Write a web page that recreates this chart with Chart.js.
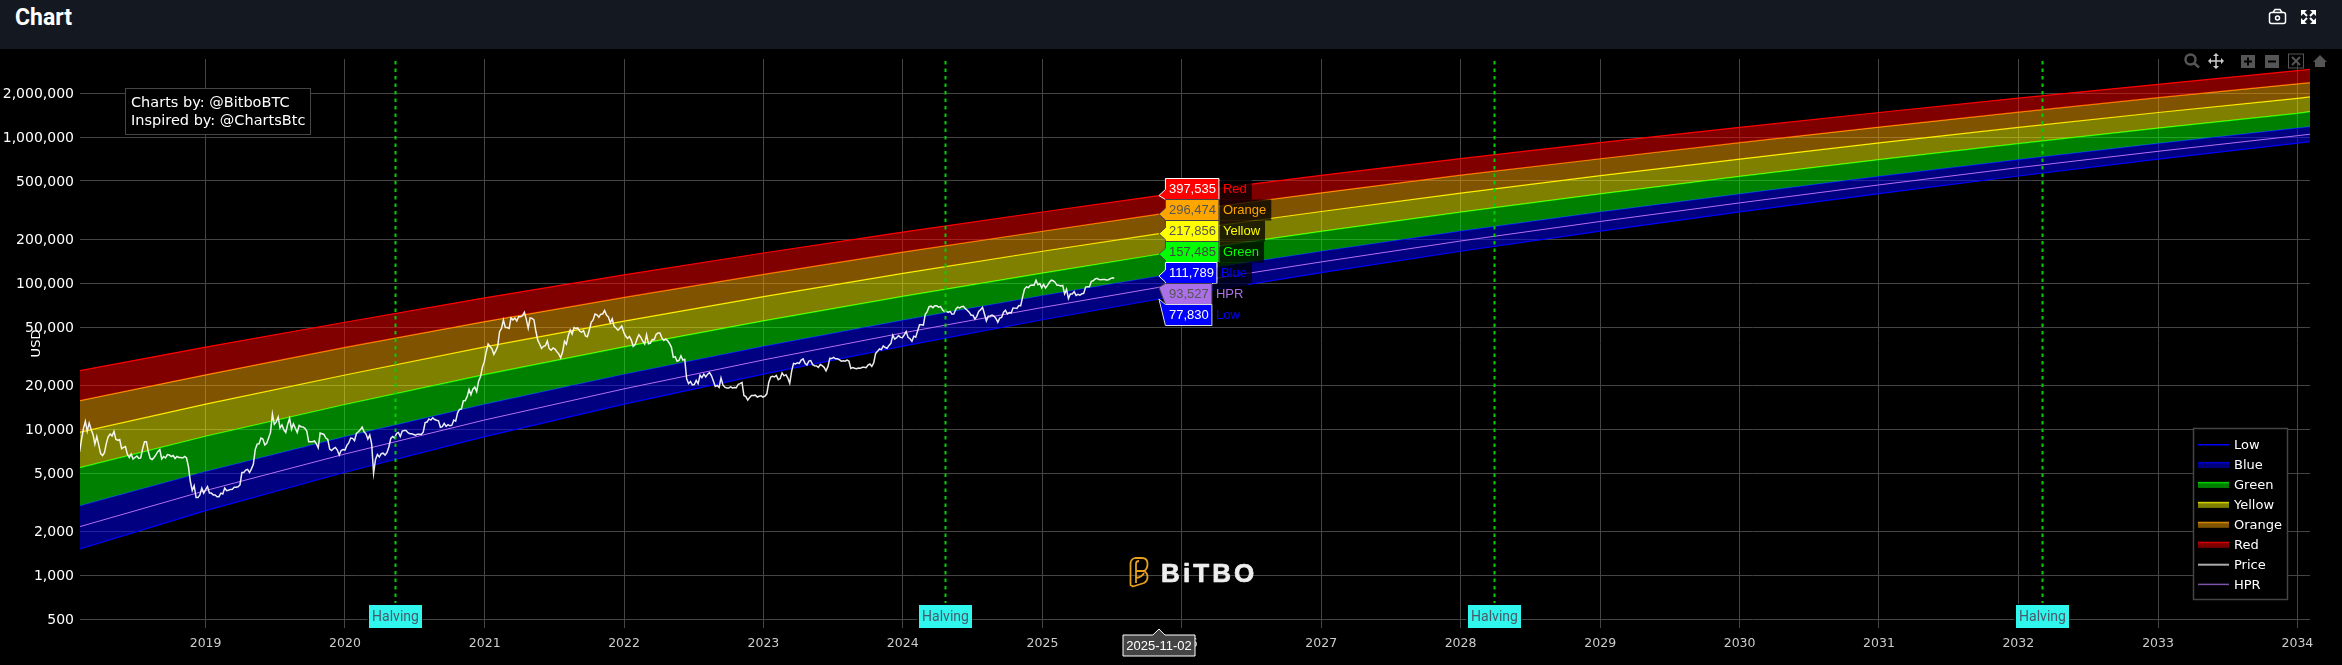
<!DOCTYPE html>
<html>
<head>
<meta charset="utf-8">
<title>Chart</title>
<script src="https://cdn.jsdelivr.net/npm/chart.js@4"></script>
<style>
  html, body { margin: 0; padding: 0; background: #000; overflow: hidden; }
  #header { position: absolute; left: 0; top: 0; width: 2342px; height: 49px; background: #141821; }
  #title { position: absolute; left: 15px; top: 4px; color: #fff; font: 700 23px Roboto, sans-serif; }
  #icons { position: absolute; left: 0; top: 0; }
  #myChart { position: absolute; left: 0; top: 49px; }
</style>
</head>
<body>
<div id="header">
  <div id="title">Chart</div>
  <svg id="icons" width="2342" height="49">
    <g fill="none" stroke="#fff" stroke-width="1.5">
      <rect x="2269.5" y="12.5" width="16" height="11" rx="2"/>
      <path d="M2273 12.5l2-3h5l2 3"/>
      <circle cx="2277.5" cy="18" r="2"/>
    </g>
    <g fill="none" stroke="#fff" stroke-width="2">
      <path d="M2303 12l4 4M2314 12l-4 4M2303 22l4-4M2314 22l-4-4"/>
    </g>
    <g fill="#fff">
      <path d="M2301 10h6l-6 6zM2316 10h-6l6 6zM2301 24h6l-6-6zM2316 24h-6l6-6z"/>
    </g>
  </svg>
</div>
<canvas id="myChart" width="2342" height="616"></canvas>
<script>
const bandDates = ['2018-02-05', '2019-01-01', '2020-01-01', '2021-01-01', '2022-01-01', '2023-01-01', '2024-01-01', '2025-01-01', '2025-11-02', '2026-01-01', '2027-01-01', '2028-01-01', '2029-01-01', '2030-01-01', '2031-01-01', '2032-01-01', '2033-01-01', '2034-01-01', '2034-02-03']
const lowValues = [1514, 2767, 5070, 8890, 14830, 23820, 37070, 56100, 77830, 82600, 117800, 165200, 227000, 306900, 410000, 541000, 705000, 908000, 929000]
const hprValues = [2150, 3800, 6760, 11560, 18880, 29790, 45600, 68100, 93527, 99100, 139600, 194100, 264200, 354000, 470000, 617000, 798000, 1021000, 1045000]
const blueValues = [2990, 5130, 8890, 14840, 23770, 36900, 55720, 82200, 111789, 118300, 165200, 227000, 306900, 408000, 538000, 701000, 904000, 1151000, 1177000]
const greenValues = [5450, 8950, 14760, 23660, 36560, 55080, 81100, 116900, 157485, 164800, 225900, 306000, 408000, 537000, 700000, 902000, 1150000, 1452000, 1490000]
const yellowValues = [9520, 14860, 23500, 36560, 54950, 80900, 116700, 165200, 217856, 229100, 309000, 413000, 544500, 706000, 912000, 1164000, 1472000, 1841000, 1880000]
const orangeValues = [15670, 23550, 36300, 54500, 79800, 114600, 162900, 226500, 296474, 311500, 415000, 548000, 710000, 914000, 1169000, 1479000, 1858000, 2312000, 2355000]
const redValues = [25140, 36480, 53950, 79250, 113800, 160700, 223400, 306600, 397535, 414000, 547000, 711000, 914000, 1164000, 1472000, 1845000, 2294000, 2844000, 2904000]

// one close every 5 days from priceStart
const priceStart = '2018-02-05'
const priceStepDays = 5
const priceValues = [
  7000, 8500, 10100, 11300, 9700, 11000, 10000, 9200, 7900, 8900, 7800, 6800, 6600, 6900, 8000, 8900, 9250, 9000, 9650, 8500, 8400, 8500, 7350, 7500, 7600, 6750, 6400, 6750, 6250, 6400, 6550, 6300, 6350, 7350, 8200, 8200, 7000, 6300, 6200, 6400, 6700, 7050, 7250, 6250, 6500, 6350, 6700, 6650, 6500, 6600, 6300, 6500, 6400, 6400, 6350, 6500, 6350, 5550, 4400, 3800, 4100, 3400, 3400, 3550, 3950, 3650,
  3850, 4050, 3650, 3650, 3550, 3550, 3450, 3450, 3650, 3600, 3950, 3800, 3820, 3870, 3880, 4000, 4000, 4030, 4150, 5050, 5050, 5250, 5300, 5050, 5350, 5750, 7250, 7900, 7950, 8700, 8550, 7800, 8000, 8700, 9500, 12700, 10800, 11200, 12100, 10200, 10700, 9900, 9500, 10800, 11850, 10000, 10900, 10150, 9500, 10600, 10400, 10350, 10150, 9700, 8200, 8200, 8200, 8300, 7950, 7450, 9400, 9300, 9200, 8700, 8500, 7300, 7150, 7350, 7500, 7200, 6650, 7150, 7250,
  7200, 7750, 8050, 8700, 8650, 8350, 9350, 9600, 9900, 10350, 9600, 9300, 8550, 9100, 7900, 5000, 6200, 6700, 6450, 6800, 6850, 6650, 6900, 7550, 8650, 8900, 8700, 9350, 9500, 8900, 9700, 9800, 9800, 9450, 9300, 9300, 9200, 9100, 9250, 9250, 9200, 9550, 11100, 11200, 11750, 11550, 11950, 11650, 11500, 11400, 10300, 10400, 10950, 10450, 10750, 10550, 10650, 11550, 11350, 12950, 13650, 13750, 15600, 15700, 16700, 18700, 17200, 18800, 19400, 18050, 21300, 22800, 26500, 29000,
  33900, 38300, 36800, 35500, 32500, 34300, 36900, 46500, 48900, 55900, 49700, 49600, 48900, 57800, 56000, 57500, 55000, 58900, 58800, 59800, 63100, 56500, 49200, 57800, 57400, 55900, 46800, 40700, 38300, 35700, 36900, 37300, 40200, 35600, 34700, 36000, 35300, 33900, 32800, 30800, 33700, 40000, 38200, 43800, 47800, 44800, 49600, 49000, 49300, 46800, 46100, 47300, 43500, 42900, 47700, 53900, 56000, 61500, 60700, 58500, 61300, 61500, 64900, 60400, 58600, 53500, 57000, 50600, 49300, 47600, 49000, 50800, 46300,
  43400, 41800, 43100, 40700, 36900, 37900, 41500, 44300, 42500, 40100, 38300, 44400, 38400, 38800, 41100, 41000, 44500, 45500, 45500, 42200, 40500, 41400, 40400, 38600, 36500, 31000, 31300, 29200, 29600, 31800, 29700, 30100, 22100, 20500, 21200, 20100, 20200, 21600, 20500, 23400, 22500, 23800, 22800, 23800, 24400, 23200, 21400, 19600, 19900, 19300, 22400, 20100, 19400, 19100, 19100, 19500, 19150, 19250, 19200, 20300, 20500, 20900, 17000, 16700, 15800, 16500, 17000, 17000, 17100, 16600, 16800, 16900, 16550,
  16850, 17450, 20900, 22700, 23000, 22800, 23300, 21800, 22200, 24300, 23200, 23600, 22400, 20600, 25000, 28200, 27950, 28500, 28200, 29700, 30300, 28200, 27500, 29250, 29500, 27650, 27200, 27100, 26500, 27700, 27200, 26500, 25100, 26800, 30550, 30450, 31000, 30300, 30300, 29900, 29200, 29350, 29200, 29750, 29300, 26050, 26400, 26100, 25900, 26250, 26100, 26550, 26550, 26350, 27500, 27950, 26900, 28500, 33000, 34100, 35400, 35050, 37100, 36200, 35800, 37450, 38700, 44000, 41300, 42300, 43700, 42500, 42300,
  44150, 46600, 42500, 41600, 40000, 43300, 42600, 47100, 51800, 51800, 51600, 61200, 63800, 68900, 69500, 67900, 69900, 69900, 68500, 69100, 65700, 64000, 64300, 63100, 64000, 61200, 61500, 66300, 68500, 67700, 69000, 69300, 66800, 65200, 63200, 60300, 60200, 56700, 59200, 64000, 65800, 68200, 61400, 55100, 59300, 59500, 60400, 59400, 57300, 54000, 57600, 58200, 63200, 65200, 61600, 62800, 62500, 67600, 67400, 67000, 70200, 70000, 80500, 91000, 94300, 93000, 96400, 96900, 96600, 104500, 97700, 99400, 92800,
  98000, 92500, 96500, 101000, 104700, 103700, 101400, 96500, 96600, 95500, 96300, 84400, 90600, 78500, 84300, 84200, 87500, 82400, 83800, 82600, 84500, 85100, 93900, 94300, 94300, 102900, 103700, 106800, 107800, 105600, 105400, 105700, 105900, 104900, 105400, 107300, 108900, 108000
]

const yTicks = [500, 1000, 2000, 5000, 10000, 20000, 50000, 100000, 200000, 500000, 1000000, 2000000]
const xYears = [2019, 2020, 2021, 2022, 2023, 2024, 2025, 2026, 2027, 2028, 2029, 2030, 2031, 2032, 2033, 2034]
const halvingDates = ['2020-05-11', '2024-04-20', '2028-03-28', '2032-03-04']
const hoverDate = '2025-11-02'

const toTime = (d) => Date.parse(d + 'T00:00:00Z')
const points = (values) => values.map((v, i) => ({ x: toTime(bandDates[i]), y: v }))
const pricePoints = priceValues.map((v, i) => ({ x: toTime(priceStart) + i * priceStepDays * 86400000, y: v }))

const band = (label, values, line, fill, order) => ({
  label, data: points(values), borderColor: line, backgroundColor: fill,
  borderWidth: 1.2, fill: '-1', order, pointRadius: 0, tension: 0,
})

const datasets = [
  { label: 'Low', data: points(lowValues), borderColor: '#0000ff', borderWidth: 1.2, fill: false, order: 8, pointRadius: 0 },
  band('Blue', blueValues, '#0000ff', 'rgba(0,0,255,0.5)', 7),
  band('Green', greenValues, '#00ff00', 'rgba(0,255,0,0.5)', 6),
  band('Yellow', yellowValues, '#ffff00', 'rgba(255,255,0,0.5)', 5),
  band('Orange', orangeValues, '#ffa500', 'rgba(255,165,0,0.5)', 4),
  band('Red', redValues, '#ff0000', 'rgba(255,0,0,0.5)', 3),
  { label: 'Price', data: pricePoints, borderColor: 'rgba(255,255,255,0.92)', borderWidth: 1.5, fill: false, order: 1, pointRadius: 0 },
  { label: 'HPR', data: points(hprValues), borderColor: '#b46ff0', borderWidth: 1, fill: false, order: 2, pointRadius: 0 },
]

const hoverRows = [
  { name: 'Red', values: redValues, color: '#ff0000', text: '#fff', edge: '#fff', top: 178.5 },
  { name: 'Orange', values: orangeValues, color: '#ffa500', text: '#555', edge: '#444', top: 199.5 },
  { name: 'Yellow', values: yellowValues, color: '#ffff00', text: '#555', edge: '#444', top: 220.5 },
  { name: 'Green', values: greenValues, color: '#00ff00', text: '#444', edge: '#444', top: 241.5 },
  { name: 'Blue', values: blueValues, color: '#0000ff', text: '#fff', edge: '#fff', top: 262.5 },
  { name: 'HPR', values: hprValues, color: '#ab6fe8', text: '#555', edge: '#444', top: 283.5 },
  { name: 'Low', values: lowValues, color: '#0000ff', text: '#fff', edge: '#ddd', top: 304.5 },
]

const OFF = 49 // canvas starts below the header

const drawYLabels = (c, y) => {
  c.fillStyle = '#fff'
  c.font = '14px "DejaVu Sans", sans-serif'
  c.textAlign = 'right'
  c.textBaseline = 'middle'
  yTicks.forEach((v) => {
    c.fillText(v.toLocaleString('en-US'), 74, y.getPixelForValue(v) + 1.5)
  })
}

const drawHalvings = (c, x, area) => {
  halvingDates.forEach((d) => {
    const px = Math.round(x.getPixelForValue(toTime(d))) + 0.5
    c.save()
    c.strokeStyle = '#00d000'
    c.lineWidth = 2
    c.setLineDash([3.5, 4])
    c.beginPath()
    c.moveTo(px, area.top + 2)
    c.lineTo(px, 603 - OFF)
    c.stroke()
    c.restore()
    c.fillStyle = '#000'
    c.fillRect(px - 28, 604 - OFF, 55, 24.5)
    c.fillStyle = '#2ff7ee'
    c.fillRect(px - 26.5, 605 - OFF, 53, 23)
    c.fillStyle = '#4a5a6a'
    c.font = '14px Roboto, sans-serif'
    c.textAlign = 'center'
    c.textBaseline = 'middle'
    c.fillText('Halving', px, 617 - OFF)
  })
}

const drawNote = (c) => {
  c.fillStyle = '#000'
  c.fillRect(125, 88.5 - OFF, 185, 46)
  c.strokeStyle = '#444'
  c.lineWidth = 1
  c.strokeRect(125.5, 88.5 - OFF, 185, 46)
  c.fillStyle = '#fff'
  c.font = '14.5px "DejaVu Sans", sans-serif'
  c.textAlign = 'left'
  c.textBaseline = 'middle'
  c.fillText('Charts by: @BitboBTC', 131, 103 - OFF)
  c.fillText('Inspired by: @ChartsBtc', 131, 121 - OFF)
}

const drawLegend = (c, chart) => {
  c.fillStyle = '#000'
  c.fillRect(2193.5, 428.5 - OFF, 94, 171)
  c.strokeStyle = '#444'
  c.lineWidth = 1.5
  c.strokeRect(2193.5, 428.5 - OFF, 94, 171)
  chart.data.datasets.forEach((ds, i) => {
    const y = 445 + i * 19.95 - OFF
    if (ds.fill) {
      c.fillStyle = ds.backgroundColor
      c.fillRect(2198, y - 3, 31, 6)
      c.fillStyle = ds.borderColor
      c.globalAlpha = 0.6
      c.fillRect(2198, y - 3, 31, 1.5)
      c.globalAlpha = 1
    } else {
      c.fillStyle = ds.label === 'Price' ? '#aaa' : ds.label === 'HPR' ? '#7d52a8' : ds.borderColor
      c.fillRect(2198, y - 1, 31, ds.label === 'Price' ? 2 : 1.5)
    }
    c.fillStyle = '#fff'
    c.font = '13px "DejaVu Sans", sans-serif'
    c.textAlign = 'left'
    c.textBaseline = 'middle'
    c.fillText(ds.label, 2234, y + 0.5)
  })
}

const drawHover = (c, x, y) => {
  const idx = bandDates.indexOf(hoverDate)
  const tipX = x.getPixelForValue(toTime(hoverDate))
  const left = tipX + 6.5
  c.font = '13px "Liberation Sans", Arial, sans-serif'
  c.textBaseline = 'middle'
  hoverRows.forEach((row) => {
    const value = row.values[idx]
    const tipY = y.getPixelForValue(value)
    const label = value.toLocaleString('en-US')
    const w = Math.round(c.measureText(label).width) + 6.5
    const top = row.top - OFF
    const bottom = top + 21
    c.beginPath()
    c.moveTo(tipX, tipY)
    if (tipY - top > 6) {
      c.lineTo(left, tipY - 6)
      c.lineTo(left, top)
    } else {
      c.lineTo(left, top)
    }
    c.lineTo(left + w, top)
    c.lineTo(left + w, bottom)
    c.lineTo(left, bottom)
    if (tipY - top > 6) {
      c.lineTo(left, Math.min(tipY + 6, bottom))
    }
    c.closePath()
    c.fillStyle = row.color
    c.fill()
    c.strokeStyle = row.edge
    c.lineWidth = 1
    c.stroke()
    c.fillStyle = row.text
    c.textAlign = 'left'
    c.fillText(label, left + 3.5, top + 11)
    const nameW = c.measureText(row.name).width
    c.fillStyle = 'rgba(0,0,0,0.75)'
    c.fillRect(left + w + 1, top, nameW + 8, 21)
    c.fillStyle = row.color
    c.fillText(row.name, left + w + 4, top + 11)
  })
  // date flag under the axis
  c.beginPath()
  c.moveTo(tipX, 629 - OFF)
  c.lineTo(tipX + 6, 635 - OFF)
  c.lineTo(1195, 635 - OFF)
  c.lineTo(1195, 656 - OFF)
  c.lineTo(1123, 656 - OFF)
  c.lineTo(1123, 635 - OFF)
  c.lineTo(tipX - 6, 635 - OFF)
  c.closePath()
  c.fillStyle = '#444'
  c.fill()
  c.strokeStyle = '#fff'
  c.lineWidth = 1
  c.stroke()
  c.fillStyle = '#fff'
  c.textAlign = 'center'
  c.fillText(hoverDate, 1159, 646 - OFF)
}

const drawLogo = (c) => {
  c.save()
  c.strokeStyle = '#e6a01e'
  c.lineWidth = 1.8
  c.lineJoin = 'round'
  c.beginPath()
  c.moveTo(1147.5, 577 - OFF)
  c.quadraticCurveTo(1147.5, 581 - OFF, 1144, 583 - OFF)
  c.lineTo(1133, 586.5 - OFF)
  c.lineTo(1130.5, 585 - OFF)
  c.lineTo(1130.5, 563 - OFF)
  c.quadraticCurveTo(1131, 559 - OFF, 1135, 558 - OFF)
  c.lineTo(1142, 558 - OFF)
  c.quadraticCurveTo(1147.5, 558 - OFF, 1147.5, 564 - OFF)
  c.quadraticCurveTo(1147.5, 569 - OFF, 1144, 571 - OFF)
  c.quadraticCurveTo(1147.5, 573 - OFF, 1147.5, 577 - OFF)
  c.moveTo(1136, 583 - OFF)
  c.lineTo(1136, 564 - OFF)
  c.quadraticCurveTo(1136, 561 - OFF, 1139, 561 - OFF)
  c.moveTo(1136, 571 - OFF)
  c.lineTo(1144, 571 - OFF)
  c.moveTo(1136, 578 - OFF)
  c.quadraticCurveTo(1142, 577 - OFF, 1144, 573 - OFF)
  c.stroke()
  c.fillStyle = '#eee'
  c.strokeStyle = '#eee'
  c.lineWidth = 0.7
  c.font = '700 26px "Liberation Sans", sans-serif'
  c.letterSpacing = '3.1px'
  c.textAlign = 'left'
  c.textBaseline = 'alphabetic'
  c.fillText('BiTBO', 1161, 582 - OFF)
  c.strokeText('BiTBO', 1161, 582 - OFF)
  c.restore()
}

const drawModebar = (c) => {
  c.save()
  c.strokeStyle = '#555'
  c.lineWidth = 2.5
  c.beginPath()
  c.arc(2190.5, 59.5 - OFF, 5, 0, Math.PI * 2)
  c.moveTo(2194, 63 - OFF)
  c.lineTo(2199, 67.5 - OFF)
  c.stroke()
  c.strokeStyle = '#ccc'
  c.lineWidth = 1.5
  c.beginPath()
  c.moveTo(2209, 61 - OFF); c.lineTo(2223, 61 - OFF)
  c.moveTo(2216, 54 - OFF); c.lineTo(2216, 68 - OFF)
  c.stroke()
  c.fillStyle = '#ccc'
  c.beginPath()
  c.moveTo(2216, 53 - OFF); c.lineTo(2213, 56 - OFF); c.lineTo(2219, 56 - OFF); c.closePath()
  c.moveTo(2216, 69 - OFF); c.lineTo(2213, 66 - OFF); c.lineTo(2219, 66 - OFF); c.closePath()
  c.moveTo(2208, 61 - OFF); c.lineTo(2211, 58 - OFF); c.lineTo(2211, 64 - OFF); c.closePath()
  c.moveTo(2224, 61 - OFF); c.lineTo(2221, 58 - OFF); c.lineTo(2221, 64 - OFF); c.closePath()
  c.fill()
  c.fillStyle = '#555'
  c.fillRect(2241, 55 - OFF, 14, 13)
  c.fillRect(2265, 55 - OFF, 14, 13)
  c.fillStyle = '#000'
  c.fillRect(2244, 60.5 - OFF, 8, 2)
  c.fillRect(2247, 57.5 - OFF, 2, 8)
  c.fillRect(2268, 60.5 - OFF, 8, 2)
  c.strokeStyle = '#555'
  c.lineWidth = 1
  c.strokeRect(2288.5, 54 - OFF, 15, 14)
  c.beginPath()
  c.moveTo(2292, 57 - OFF); c.lineTo(2300, 65 - OFF)
  c.moveTo(2300, 57 - OFF); c.lineTo(2292, 65 - OFF)
  c.lineWidth = 2
  c.stroke()
  c.fillStyle = '#555'
  c.beginPath()
  c.moveTo(2320, 55 - OFF); c.lineTo(2327, 62 - OFF); c.lineTo(2325, 62 - OFF); c.lineTo(2325, 67 - OFF)
  c.lineTo(2315, 67 - OFF); c.lineTo(2315, 62 - OFF); c.lineTo(2313, 62 - OFF)
  c.closePath()
  c.fill()
  c.restore()
}

const overlay = {
  id: 'overlay',
  afterDraw(chart) {
    const c = chart.ctx
    const { x, y } = chart.scales
    drawYLabels(c, y)
    drawHalvings(c, x, chart.chartArea)
    drawLogo(c)
    drawNote(c)
    drawLegend(c, chart)
    drawHover(c, x, y)
    drawModebar(c)
  },
}

const noPadding = (s) => {
  s.paddingTop = 0
  s.paddingBottom = 0
  s.paddingLeft = 0
  s.paddingRight = 0
}

new Chart(document.getElementById('myChart'), {
  type: 'line',
  data: { datasets },
  plugins: [overlay],
  options: {
    responsive: false,
    animation: false,
    devicePixelRatio: 1,
    layout: { padding: { top: 10, right: 32, left: 0, bottom: 0 } },
    plugins: {
      legend: { display: false },
      tooltip: { enabled: false },
      title: { display: false },
      filler: { propagate: false },
    },
    scales: {
      x: {
        type: 'linear',
        min: toTime('2018-02-06'),
        max: toTime('2034-02-03'),
        afterFit: (s) => { s.height = 37; noPadding(s) },
        afterBuildTicks: (s) => { s.ticks = xYears.map((yr) => ({ value: toTime(yr + '-01-01') })) },
        grid: { color: '#444', lineWidth: 1, drawTicks: false },
        border: { display: false },
        ticks: {
          autoSkip: false,
          maxRotation: 0,
          padding: 8,
          color: '#ccc',
          font: { family: '"DejaVu Sans", sans-serif', size: 12.5 },
          callback: (v) => String(new Date(v).getUTCFullYear()),
        },
      },
      y: {
        type: 'logarithmic',
        min: 435.5,
        max: 3420000,
        afterFit: (s) => { s.width = 80; noPadding(s) },
        afterBuildTicks: (s) => { s.ticks = yTicks.map((v) => ({ value: v })) },
        grid: { color: '#444', lineWidth: 1, drawTicks: false },
        border: { display: false },
        title: {
          display: true,
          text: 'USD',
          color: '#fff',
          font: { family: '"DejaVu Sans", sans-serif', size: 13, lineHeight: 1 },
          padding: { top: 30, bottom: 0 },
        },
        ticks: { display: false },
      },
    },
  },
})
</script>
</body>
</html>
